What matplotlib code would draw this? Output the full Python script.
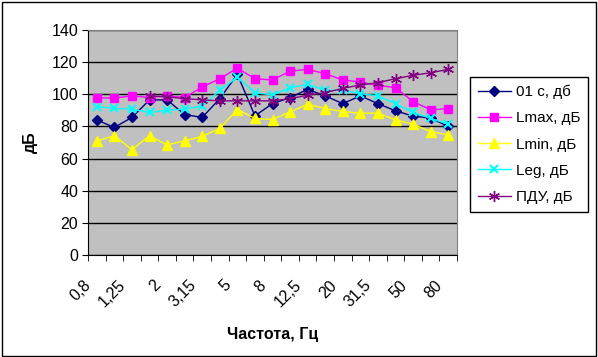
import matplotlib.pyplot as plt
from matplotlib.patches import Rectangle
from matplotlib.transforms import ScaledTranslation
import numpy as np

plt.rcParams['font.family'] = ['Liberation Sans', 'DejaVu Sans']

freqs = ['0,8', '1', '1,25', '1,6', '2', '2,5', '3,15', '4', '5', '6,3', '8',
         '10', '12,5', '16', '20', '25', '31,5', '40', '50', '63', '80']

l_01c = [84, 79.4, 85.6, 96.5, 96.5, 87.4, 85.6, 97.3, 112.4, 86.6, 94.2,
         97.9, 103.1, 99, 94.2, 99, 94.2, 89.7, 86.4, 85.2, 80]
l_max = [97.7, 97.7, 99, 98, 99, 98, 104.5, 109.7, 116.3, 109.7, 108.9,
         114.4, 115.5, 112.8, 108.9, 107.6, 105.6, 104.1, 95.5, 90.3, 91.1]
l_min = [71, 74.2, 65.6, 74.2, 68.5, 71, 73.8, 78.8, 90.5, 85, 84.3,
         89, 93.8, 91.1, 89.3, 88.2, 88.2, 84.1, 81.4, 76.7, 74.8]
l_eq = [92.2, 91.3, 90.7, 88.7, 90.1, 90.7, 92.8, 102.5, 110.7, 101, 99.6,
        104.1, 106.2, 102.5, 102.5, 100.4, 99, 94.2, 88.7, 85, 81.4]
pdu = [np.nan, np.nan, np.nan, 99, 98.4, 97.3, 96.5, 95.9, 95.9, 95.9, 95.9,
       97.3, 99.4, 101, 103.7, 105.8, 107.2, 109.7, 111.8, 113.4, 115.5]

fig = plt.figure(figsize=(5.98, 3.57), dpi=100)
ax = fig.add_axes([88 / 598, 1 - 255 / 357, 369 / 598, 225 / 357])
fig.patches.append(Rectangle((0.003, 0.004), 0.993, 0.991, transform=fig.transFigure,
                             fill=False, edgecolor='black', linewidth=1))

x = np.arange(len(freqs))
ax.plot(x, l_01c, color='#000080', marker='D', markersize=5, lw=1, label='01 с, дб')
ax.plot(x, l_max, color='#FF00FF', marker='s', markersize=6, lw=1, label='Lmax, дБ')
ax.plot(x, l_min, color='#FFFF00', marker='^', markersize=7, lw=1, label='Lmin, дБ')
ax.plot(x, l_eq, color='#00FFFF', marker='x', markersize=6, mew=1.5, lw=1, label='Leg, дБ')
ax.plot(x, pdu, color='#800080', marker=(6, 2, 0), markersize=8, mew=1, lw=1, label='ПДУ, дБ')

ax.set_facecolor('#C0C0C0')
ax.set_xlim(-0.5, len(freqs) - 0.5)
ax.set_ylim(0, 140)
ax.set_yticks(range(0, 141, 20))
ax.grid(axis='y', color='black', lw=1)
ax.set_axisbelow(True)
ax.set_xticks(x[::2])
ax.set_xticklabels(freqs[::2], rotation=45, ha='right', rotation_mode='anchor', fontsize=11.5)
ax.set_xticks(np.arange(-0.5, len(freqs)), minor=True)
ax.tick_params(axis='x', which='major', length=0, pad=12)
ax.tick_params(axis='x', which='minor', length=4, direction='out')
ax.tick_params(axis='y', labelsize=11.5, length=4, pad=3)
shift = ScaledTranslation(-14 / 100, -6 / 100, fig.dpi_scale_trans)
for lbl in ax.get_xticklabels():
    lbl.set_transform(lbl.get_transform() + shift)
for s in ['top', 'right']:
    ax.spines[s].set_color('#808080')
for s in ['left', 'bottom']:
    ax.spines[s].set_color('black')

ax.set_ylabel('дБ', fontsize=11.5, fontweight='bold', labelpad=10)
ax.set_xlabel('Частота, Гц', fontsize=11.5, fontweight='bold', labelpad=12)

leg = ax.legend(loc='upper left', bbox_to_anchor=(470 / 598, 1 - 77 / 357),
                bbox_transform=fig.transFigure, fancybox=False, edgecolor='black',
                framealpha=1, fontsize=11, handlelength=2.2, labelspacing=0.8,
                borderpad=0.5, handletextpad=0.3, borderaxespad=0)
leg.get_frame().set_linewidth(1)

fig.savefig('out.png', dpi=100)
